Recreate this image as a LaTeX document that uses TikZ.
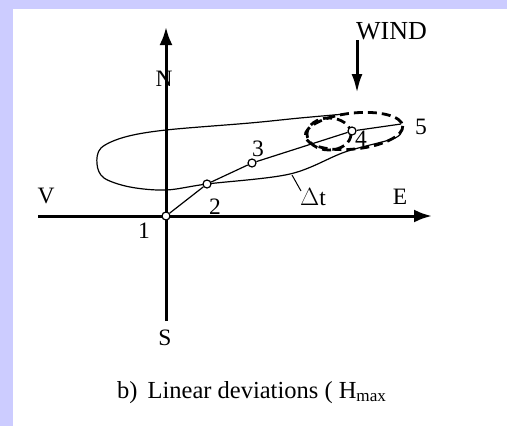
\documentclass[tikz,border=0pt]{standalone}
\usepackage{fontspec}
\setmainfont{Liberation Serif}
\usetikzlibrary{arrows.meta}
\definecolor{lav}{RGB}{204,204,255}
\begin{document}
\begin{tikzpicture}[x=1pt,y=-1pt,
  axisline/.style={line width=3pt,-{Latex[length=18pt,width=13pt]}},
  windline/.style={line width=3pt,-{Latex[length=19pt,width=11pt]}},
  loopline/.style={line width=1.2pt},
  trackline/.style={line width=1.2pt},
  dashell/.style={line width=2.8pt,dash pattern=on 9pt off 5pt},
  ptc/.style={circle,draw,fill=white,inner sep=0pt,minimum size=8pt,line width=1.2pt},
  lbl/.style={font=\fontsize{23.5}{27}\selectfont,inner sep=0pt,anchor=base},
]
\useasboundingbox (0,0) rectangle (507,426);
\fill[lav] (0,0) rectangle (507,426);
\fill[white] (13,9) rectangle (507,426);

% labels
\node[lbl] (lN) at (164,86) {N};
\node[lbl] (lS) at (165,345) {S};
\node[lbl] (lV) at (46,203) {V};
\node[lbl] (lE) at (400,204) {E};
\node[lbl] (l1) at (144,238) {1};
\node[lbl] (l2) at (215,214) {2};
\node[lbl] (l3) at (258,156) {3};
\node[lbl] (l4) at (361,146) {4};
\node[lbl] (l5) at (421,134) {5};
\node[lbl] (ldt) at (313,205) {$\Delta$t};
\node[lbl,anchor=base west,font=\fontsize{26}{30}\selectfont] (lwind) at (356,39) {WIND};
\node[lbl,anchor=base west,font=\fontsize{24.5}{28}\selectfont] (cap) at (117,398) {b)\hspace{10pt}Linear deviations ( H\textsubscript{max}};

% axes
\coordinate (Ntip) at (166,27);
\coordinate (Send) at (166,321);
\coordinate (Wend) at (38,216);
\coordinate (Etip) at (432,216);
\draw[axisline] (Send) -- (Ntip);
\draw[axisline] (Wend) -- (Etip);

% wind arrow
\coordinate (w1) at (357,40);
\coordinate (w2) at (357,93);
\draw[windline] (w1) -- (w2);

% loop
\draw[loopline] plot[smooth,tension=0.55] coordinates {(345,114) (300,118) (250,123) (166,130) (125,137) (101,148) (97,164) (104,178) (130,187) (166,190) (207,184) (290,174) (345,152) (395,138) (402,128)};

% delta t leader
\coordinate (d1) at (292,175);
\coordinate (d2) at (301,191);
\draw[line width=1pt] (d1) -- (d2);

% dashed ellipses
\draw[dashell,rotate around={6:(354,131)}] (354,131) ellipse [x radius=49, y radius=18];
\draw[dashell] (329,134) ellipse [x radius=22, y radius=16];

% track points
\node[ptc] (p1) at (166,216) {};
\node[ptc] (p2) at (207,184) {};
\node[ptc] (p3) at (252,163) {};
\node[ptc] (p4) at (352,131) {};
\coordinate (p5) at (401,124);
\draw[trackline] (p1) -- (p2) -- (p3) -- (p4) -- (p5);
\end{tikzpicture}
\end{document}
